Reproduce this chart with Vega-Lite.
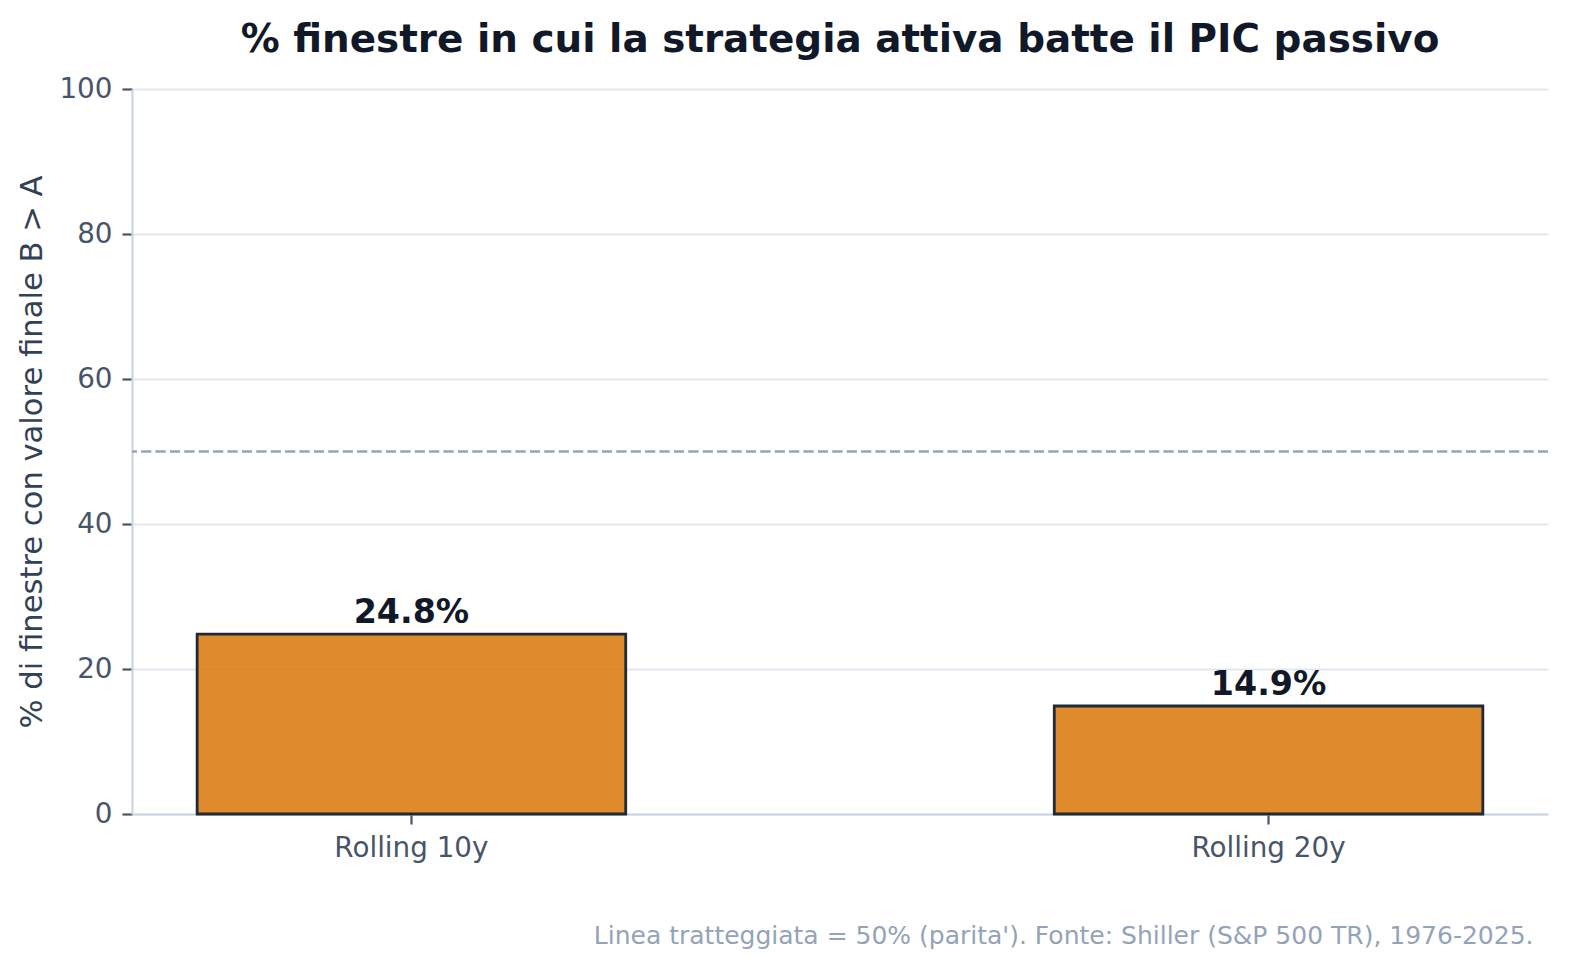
{
  "$schema": "https://vega.github.io/schema/vega-lite/v6.json",
  "description": "% finestre in cui la strategia attiva batte il PIC passivo",
  "autosize": {"type": "none"},
  "padding": {"left": 132, "top": 89, "right": 32, "bottom": 160},
  "width": 1416,
  "height": 725,
  "background": "white",
  "title": {
    "text": "% finestre in cui la strategia attiva batte il PIC passivo",
    "font": "DejaVu Sans",
    "fontSize": 38.9,
    "fontWeight": "bold",
    "color": "#111827",
    "anchor": "middle",
    "frame": "group",
    "baseline": "bottom",
    "offset": 12,
    "dy": 36
  },
  "data": {
    "values": [
      {"finestra": "Rolling 10y", "pct": 24.8, "label": "24.8%"},
      {"finestra": "Rolling 20y", "pct": 14.9, "label": "14.9%"}
    ]
  },
  "encoding": {
    "x": {
      "field": "finestra",
      "type": "nominal",
      "sort": null,
      "scale": {"paddingInner": 0.5, "paddingOuter": 0.076},
      "axis": {
        "title": "Linea tratteggiata = 50% (parita'). Fonte: Shiller (S&P 500 TR), 1976-2025.",
        "titleX": 1401,
        "titleY": 129,
        "titleAlign": "right",
        "titleAnchor": null,
        "titleBaseline": "alphabetic",
        "titleFontSize": 25,
        "titleFontWeight": "normal",
        "titleColor": "#94a3b8",
        "labelAngle": 0,
        "labelFontSize": 27.8,
        "labelColor": "#475569",
        "labelPadding": 10,
        "tickColor": "#475569",
        "tickSize": 10,
        "tickWidth": 2.2,
        "domainColor": "#cbd5e1",
        "domainWidth": 2.2,
        "grid": false
      }
    }
  },
  "layer": [
    {
      "mark": {"type": "bar", "color": "#d97706", "fillOpacity": 0.85, "stroke": "#1f2937", "strokeWidth": 2.8},
      "encoding": {
        "y": {
          "field": "pct",
          "type": "quantitative",
          "scale": {"domain": [0, 100]},
          "axis": {
            "title": "% di finestre con valore finale B > A",
            "titleFontSize": 30.6,
            "titleFontWeight": "normal",
            "titleColor": "#334155",
            "titlePadding": 11,
            "values": [0, 20, 40, 60, 80, 100],
            "labelFontSize": 27.8,
            "labelColor": "#475569",
            "labelPadding": 10,
            "tickColor": "#475569",
            "tickSize": 10,
            "tickWidth": 2.2,
            "domainColor": "#cbd5e1",
            "domainWidth": 2.2,
            "gridColor": "#e2e8f0",
            "gridWidth": 1.8
          }
        }
      }
    },
    {
      "mark": {"type": "rule", "color": "#94a3b8", "strokeWidth": 2, "strokeDash": [10, 4.4]},
      "encoding": {"y": {"datum": 50}, "x": {}}
    },
    {
      "mark": {"type": "text", "font": "DejaVu Sans", "fontSize": 33.3, "fontWeight": "bold", "color": "#111827", "baseline": "alphabetic", "dy": -11},
      "encoding": {
        "y": {"field": "pct", "type": "quantitative"},
        "text": {"field": "label"}
      }
    }
  ],
  "config": {
    "font": "DejaVu Sans",
    "view": {"stroke": null},
    "axis": {"labelFont": "DejaVu Sans", "titleFont": "DejaVu Sans"}
  }
}
